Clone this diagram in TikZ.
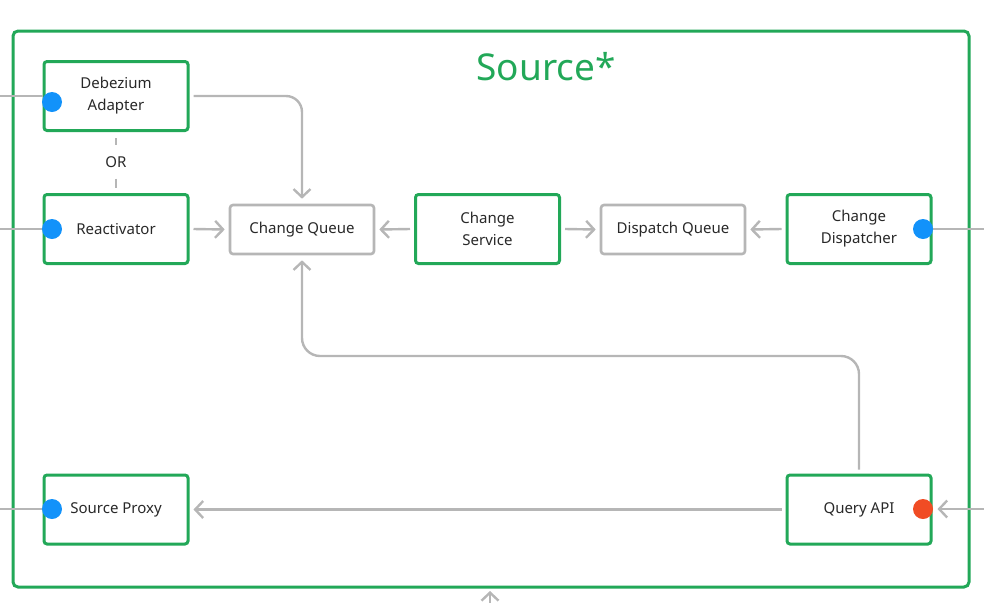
\documentclass[tikz,border=0pt]{standalone}
\usepackage{fontspec}
\setmainfont{Noto Sans}
\usetikzlibrary{arrows.meta}
\definecolor{sgreen}{RGB}{34,168,88}
\definecolor{sgray}{RGB}{182,182,182}
\definecolor{sblue}{RGB}{18,146,250}
\definecolor{sred}{RGB}{240,76,36}
\definecolor{stext}{RGB}{40,40,40}
\tikzset{
  gbox/.style={draw=sgreen, line width=3pt, rounded corners=3pt, minimum width=144pt, minimum height=69pt, align=center, text=stext, font=\fontsize{15}{22}\selectfont, inner sep=0pt},
  qbox/.style={draw=sgray, line width=2.6pt, rounded corners=3pt, minimum width=144pt, minimum height=49pt, align=center, text=stext, font=\fontsize{15}{22}\selectfont, inner sep=0pt},
  gl/.style={draw=sgray, line width=2.4pt},
  arr/.style={gl, -{Straight Barb[length=8pt,width=17pt,line width=2.4pt]}},
  dot/.style={circle, minimum size=20pt, inner sep=0pt, draw=none},
}
\begin{document}
\begin{tikzpicture}[x=1pt,y=-1pt]
\useasboundingbox (0,0) rectangle (984,603);
% frame
\node[draw=sgreen, line width=3pt, rounded corners=5pt, minimum width=956pt, minimum height=556pt, inner sep=0pt] (frame) at (491,309) {};
\node[text=sgreen, font=\fontsize{37}{42}\selectfont] (title) at (546,67) {Source*};
% boxes
\node[gbox] (deb) at (116,96) {Debezium\\Adapter};
\node[gbox] (rea) at (116,229) {Reactivator};
\node[qbox] (cq) at (302,229.5) {Change Queue};
\node[gbox] (cs) at (487.5,229) {Change\\Service};
\node[qbox] (dq) at (673,229.5) {Dispatch Queue};
\node[gbox] (cd) at (859,229) {Change\\Dispatcher};
\node[gbox] (sp) at (116,509.5) {Source Proxy};
\node[gbox] (qa) at (859,509.5) {Query API};
% OR
\node[text=stext, font=\fontsize{15}{18}\selectfont, inner xsep=2pt, inner ysep=11pt] (or) at (116,162) {OR};
\draw[gl] ([yshift=-6pt]deb.south) -- (or.north);
\draw[gl] (or.south) -- ([yshift=5pt]rea.north);
% external coordinates
\coordinate (inD) at (0,96);
\coordinate (inR) at (0,229);
\coordinate (inS) at (0,509);
\coordinate (outC) at (984,229);
\coordinate (inQ) at (984,509);
\coordinate (inB) at (490,603);
\coordinate (tipB) at (490,591);
\coordinate (bend) at (0,356);
% external lines
\draw[gl] (inD) -- (deb.west |- inD);
\draw[gl] (inR) -- (rea.west);
\draw[gl] (inS) -- (sp.west |- inS);
\draw[gl] (cd.east) -- (outC);
\draw[arr] (inQ) -- ([xshift=5pt]qa.east |- inQ);
\draw[arr] (inB) -- (tipB);
% internal arrows
\draw[arr, rounded corners=16pt] ([xshift=4pt]deb.east) -| ([yshift=5pt]cq.north);
\draw[arr] ([xshift=4pt]rea.east) -- ([xshift=-4pt]cq.west);
\draw[arr] ([xshift=-4pt]cs.west) -- ([xshift=4pt]cq.east);
\draw[arr] ([xshift=4pt]cs.east) -- ([xshift=-4pt]dq.west);
\draw[arr] ([xshift=-4pt]cd.west) -- ([xshift=4pt]dq.east);
\draw[arr] ([xshift=-4pt]qa.west) -- ([xshift=4pt]sp.east);
\draw[arr, rounded corners=18pt] ([yshift=4pt]qa.north) -- (qa.north |- bend) -| ([yshift=-5pt]cq.south);
% dots
\node[dot, fill=sblue] (dD) at (52,102) {};
\node[dot, fill=sblue] (dR) at (52,229) {};
\node[dot, fill=sblue] (dC) at (923,229) {};
\node[dot, fill=sblue] (dS) at (52,509) {};
\node[dot, fill=sred] (dQ) at (923,509) {};
\end{tikzpicture}
\end{document}
